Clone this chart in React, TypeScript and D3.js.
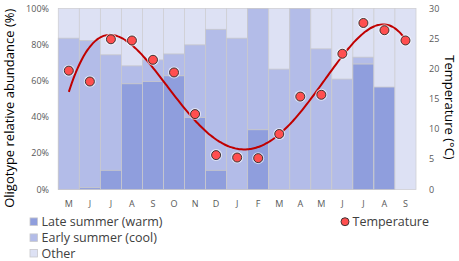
import React from "react";
import * as d3 from "d3";

const months = ["M","J","J","A","S","O","N","D","J","F","M","A","M","J","J","A","S"];
const lateSummer = [0, 1, 10.6, 58.4, 59.7, 62.8, 39.8, 10.6, 0, 33, 0, 0, 0, 0, 69.3, 56.6, 0];
const earlySummer = [83.6, 81.3, 63.8, 9.9, 11.9, 12.1, 40.1, 77.9, 83.6, 67, 66.5, 100, 77.7, 61, 3.8, 0, 0];
const temperature = [19.7, 17.9, 24.9, 24.7, 21.5, 19.4, 12.5, 5.7, 5.3, 5.2, 9.2, 15.4, 15.7, 22.5, 27.6, 26.4, 24.7];
const leftTicks = [0, 20, 40, 60, 80, 100];
const rightTicks = [0, 5, 10, 15, 20, 25, 30];

const COL_LATE = "#8f9edd";
const COL_EARLY = "#b3bce8";
const COL_OTHER = "#dde1f4";

function polyfit(xs: number[], ys: number[], deg: number) {
  const n = deg + 1;
  const A: number[][] = Array.from({ length: n }, () => new Array(n + 1).fill(0));
  for (let i = 0; i < xs.length; i++) {
    for (let r = 0; r < n; r++) {
      for (let c = 0; c < n; c++) A[r][c] += Math.pow(xs[i], r + c);
      A[r][n] += ys[i] * Math.pow(xs[i], r);
    }
  }
  for (let k = 0; k < n; k++) {
    let p = k;
    for (let r = k + 1; r < n; r++) if (Math.abs(A[r][k]) > Math.abs(A[p][k])) p = r;
    [A[k], A[p]] = [A[p], A[k]];
    for (let r = 0; r < n; r++) {
      if (r === k) continue;
      const f = A[r][k] / A[k][k];
      for (let c = k; c <= n; c++) A[r][c] -= f * A[k][c];
    }
  }
  return A.map((row, i) => row[n] / row[i]);
}

export default function App() {
  const W = 459, H = 261;
  const x0 = 58.3, x1 = 416, yTop = 8.5, yBot = 189.5;
  const x = d3.scaleBand<number>().domain(d3.range(months.length)).range([x0, x1]).padding(0);
  const yL = d3.scaleLinear().domain([0, 100]).range([yBot, yTop]);
  const yR = d3.scaleLinear().domain([0, 30]).range([yBot, yTop]);
  const bw = x.bandwidth();
  const cx = (i: number) => (x(i) as number) + bw / 2;

  const idx = d3.range(temperature.length);
  const coef = polyfit(idx, temperature, 4);
  const evalP = (t: number) => coef.reduce((s, c, k) => s + c * Math.pow(t, k), 0);
  const curvePts = d3.range(0, 16.001, 0.1).map((t) => [x0 + bw / 2 + t * bw, yR(evalP(t))] as [number, number]);
  const line = d3.line().curve(d3.curveBasis)(curvePts) || "";

  const font = "'Open Sans', sans-serif";
  const gray = "#595959";

  return (
    <div style={{ position: "absolute", left: 0, top: 0 }}>
      <svg width={W} height={H} style={{ display: "block", background: "#fff" }} fontFamily={font}>
        {months.map((m, i) => {
          const l = lateSummer[i], e = earlySummer[i];
          const xx = x(i) as number;
          return (
            <g key={i}>
              <rect x={xx} y={yL(100)} width={bw} height={yL(0) - yL(100)} fill={COL_OTHER} stroke="#cfcfd4" strokeWidth={0.8} />
              {e > 0 && <rect x={xx} y={yL(l + e)} width={bw} height={yL(l) - yL(l + e)} fill={COL_EARLY} stroke="#c8c8cc" strokeWidth={0.8} />}
              {l > 0 && <rect x={xx} y={yL(l)} width={bw} height={yL(0) - yL(l)} fill={COL_LATE} stroke="#c8c8cc" strokeWidth={0.8} />}
            </g>
          );
        })}
        <path d={line} fill="none" stroke="#c00000" strokeWidth={2} />
        {temperature.map((t, i) => (
          <g key={i}>
            <circle cx={cx(i)} cy={yR(t)} r={6} fill="#ffffff" opacity={0.6} />
            <circle cx={cx(i)} cy={yR(t)} r={4.5} fill="#ff4f4f" stroke="#2b2b2b" strokeWidth={0.9} />
          </g>
        ))}
        {leftTicks.map((v) => (
          <text key={v} x={49} y={yL(v)} dy="0.35em" textAnchor="end" fontSize={9} fill={gray}>{v}%</text>
        ))}
        {rightTicks.map((v) => (
          <text key={v} x={429} y={yR(v)} dy="0.35em" textAnchor="start" fontSize={9} fill={gray}>{v}</text>
        ))}
        {months.map((m, i) => (
          <text key={i} x={cx(i)} y={204} dy="0.35em" textAnchor="middle" fontSize={9} fill={gray}>{m}</text>
        ))}
        <text transform={`translate(14,${(yTop + 208) / 2}) rotate(-90)`} textAnchor="middle" fontSize={13} fill="#000">Oligotype relative abundance (%)</text>
        <text transform={`translate(445,${(55 + 160) / 2}) rotate(90)`} textAnchor="middle" fontSize={13} fill="#000">Temperature (°C)</text>
        {[["Late summer (warm)", COL_LATE, 221.7], ["Early summer (cool)", COL_EARLY, 237.7], ["Other", COL_OTHER, 253.3]].map(([lbl, c, yy]) => (
          <g key={lbl as string}>
            <rect x={30} y={(yy as number) - 3.8} width={7.5} height={7.5} fill={c as string} stroke="#c8c8cc" strokeWidth={0.8} />
            <text x={41.5} y={yy as number} dy="0.35em" fontSize={12.5} fill="#404040">{lbl}</text>
          </g>
        ))}
        <circle cx={345} cy={221.7} r={4} fill="#ff4f4f" stroke="#2b2b2b" strokeWidth={0.9} />
        <text x={352.5} y={221.7} dy="0.35em" fontSize={12.5} fill="#404040">Temperature</text>
      </svg>
    </div>
  );
}
